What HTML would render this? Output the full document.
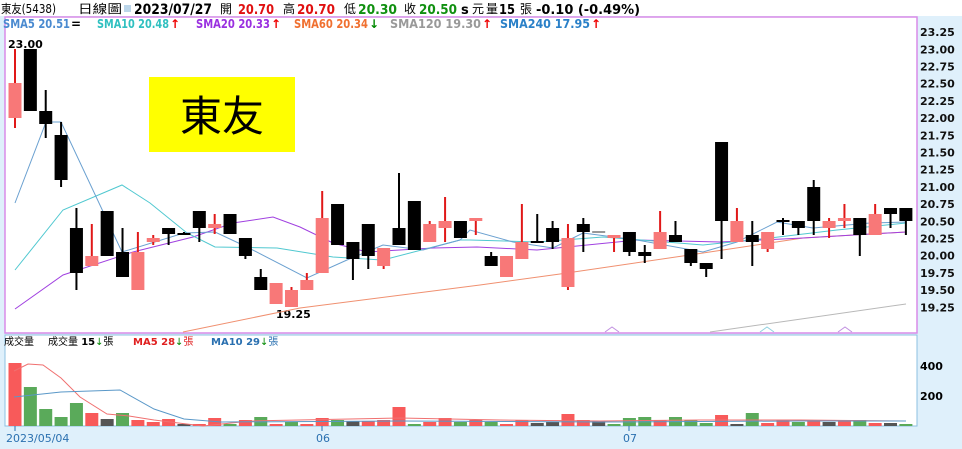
<!DOCTYPE html>
<html><head><meta charset="utf-8"><style>
body{margin:0;width:962px;height:449px;background:#dff0fb;overflow:hidden;font-family:"Liberation Sans","Noto Sans CJK TC",sans-serif}
svg{position:absolute;left:0;top:0}
text{font-family:"DejaVu Sans","Liberation Sans","Noto Sans CJK TC",sans-serif}
</style></head><body>
<svg id="s" width="962" height="449" xmlns="http://www.w3.org/2000/svg">
<rect x="0" y="0" width="962" height="449" fill="#dff0fb"/>
<rect x="0" y="0" width="962" height="16" fill="#fff"/>
<rect x="5" y="17" width="912" height="316" fill="#fff" stroke="#d98be8" stroke-width="1.5"/>
<rect x="5" y="335" width="912" height="91" fill="#fff" stroke="#8cc0e0" stroke-width="1"/>
<rect x="149" y="77" width="146" height="75" fill="#ffff00"/>
<text x="222" y="131" font-size="42" text-anchor="middle" font-family="Noto Serif CJK SC,serif" fill="#000">東友</text>
<g font-size="13">
<text x="1" y="13" font-family="Noto Sans CJK TC,sans-serif" font-size="12" textLength="55" lengthAdjust="spacingAndGlyphs">東友(5438)</text>
<text x="78" y="13" font-family="Noto Sans CJK TC,sans-serif" font-size="12" textLength="44" lengthAdjust="spacingAndGlyphs">日線圖</text>
<rect x="124" y="5" width="7" height="7" fill="#bcd6ea"/>
<text x="134" y="14" font-weight="bold" font-size="14" textLength="78" lengthAdjust="spacingAndGlyphs">2023/07/27</text>
<text x="220" y="13" font-size="12">開</text><text x="238" y="14" font-weight="bold" fill="#e01010" textLength="36" lengthAdjust="spacingAndGlyphs">20.70</text>
<text x="283" y="13" font-size="12">高</text><text x="297" y="14" font-weight="bold" fill="#e01010" textLength="38" lengthAdjust="spacingAndGlyphs">20.70</text>
<text x="344" y="13" font-size="12">低</text><text x="358" y="14" font-weight="bold" fill="#109010" textLength="39" lengthAdjust="spacingAndGlyphs">20.30</text>
<text x="404" y="13" font-size="12">收</text><text x="419" y="14" font-weight="bold" fill="#109010" textLength="38" lengthAdjust="spacingAndGlyphs">20.50</text>
<text x="461" y="14" font-weight="bold">s</text><text x="472" y="13" font-size="12">元</text>
<text x="486" y="13" font-size="12">量</text><text x="499" y="14" font-weight="bold" textLength="16" lengthAdjust="spacingAndGlyphs">15</text><text x="520" y="13" font-size="12">張</text>
<text x="536" y="14" font-weight="bold" textLength="104" lengthAdjust="spacingAndGlyphs">-0.10 (-0.49%)</text>
</g>
<g font-size="12" font-weight="bold">
<text x="3" y="28" fill="#4a8ad0" textLength="67" lengthAdjust="spacingAndGlyphs">SMA5 20.51</text><text x="71" y="28" fill="#000">=</text>
<text x="97" y="28" fill="#30c0c0" textLength="72" lengthAdjust="spacingAndGlyphs">SMA10 20.48</text><text x="170" y="28" fill="#e00">↑</text>
<text x="196" y="28" fill="#9a30e0" textLength="74" lengthAdjust="spacingAndGlyphs">SMA20 20.33</text><text x="271" y="28" fill="#e00">↑</text>
<text x="294" y="28" fill="#f07030" textLength="74" lengthAdjust="spacingAndGlyphs">SMA60 20.34</text><text x="369" y="28" fill="#080">↓</text>
<text x="390" y="28" fill="#999" textLength="91" lengthAdjust="spacingAndGlyphs">SMA120 19.30</text><text x="482" y="28" fill="#e00">↑</text>
<text x="500" y="28" fill="#2a80c8" textLength="90" lengthAdjust="spacingAndGlyphs">SMA240 17.95</text><text x="591" y="28" fill="#e00">↑</text>
</g>
<g font-size="11" font-weight="bold" fill="#111" id="ax"></g>
<text x="8" y="48" font-size="11" font-weight="bold">23.00</text>
<text x="276" y="318" font-size="11" font-weight="bold">19.25</text>
<g id="ma"></g>
<g id="c"></g>
<g id="v"></g>
<g font-size="10">
<text x="4" y="345" font-family="Noto Sans CJK TC,sans-serif">成交量</text>
<text x="48" y="345" font-family="Noto Sans CJK TC,sans-serif">成交量 <tspan font-weight="bold" font-family="DejaVu Sans">15</tspan><tspan fill="#080">↓</tspan>張</text>
<text x="133" y="345" fill="#e02020"><tspan font-weight="bold">MA5 28</tspan><tspan fill="#080">↓</tspan>張</text>
<text x="211" y="345" fill="#2a70b0"><tspan font-weight="bold">MA10 29</tspan><tspan fill="#080">↓</tspan>張</text>
</g>
<g font-size="11" font-weight="bold"><text x="920" y="370">400</text><text x="920" y="400">200</text></g>
<g font-size="11" fill="#2a70b0">
<line x1="15" y1="426" x2="15" y2="431" stroke="#2a70b0"/><text x="6" y="442">2023/05/04</text>
<line x1="322" y1="426" x2="322" y2="431" stroke="#2a70b0"/><text x="316" y="442">06</text>
<line x1="629" y1="426" x2="629" y2="431" stroke="#2a70b0"/><text x="623" y="442">07</text>
</g>
</svg>
<script>
var NS="http://www.w3.org/2000/svg";
function el(p,t,a){var e=document.createElementNS(NS,t);for(var k in a)e.setAttribute(k,a[k]);document.getElementById(p).appendChild(e);return e;}
for(var i=0;i<17;i++){var p=23.25-i*0.25;var y=49.3+(23-p)*68.8;var t=el("ax","text",{x:920,y:y+4});t.textContent=p.toFixed(2);}
var C=[
["r",83,118,49,128],["k",49,111,49,111],["k",111,124,90,138],["k",135,180,122,187],["k",228,273,208,290],
["r",256,266,224,266],["k",211,256,211,256],["k",252,277,228,277],["r",252,290,232,290],["r",238,242,235,245],
["k",228,234,228,245],["d",234,234,232,234],["k",211,228,211,242],["r",224,228,214,234],["k",214,234,214,234],
["k",238,256,238,259],["k",277,290,269,290],["r",283,304,283,304],["r",290,307,287,307],["r",280,290,273,290],
["r",218,273,191,273],["k",204,245,204,245],["k",242,259,242,280],["k",224,256,224,269],["r",248,266,248,269],
["k",228,245,173,245],["k",201,250,201,250],["r",224,242,221,242],["r",221,228,197,242],["k",221,238,221,238],
["r",218,221,218,235],["k",256,266,252,266],["r",256,277,256,277],["r",242,259,204,259],["d",242,242,214,242],
["k",228,242,221,249],["r",238,287,224,290],["k",224,232,218,252],["g",232,232,232,232],["r",235,238,235,252],
["k",232,252,232,256],["k",252,256,245,263],["r",232,249,211,249],["k",235,242,221,242],["k",249,263,249,266],
["k",263,269,263,277],["k",142,221,142,259],["r",221,242,208,242],["k",235,242,221,266],["r",232,249,232,252],
["d",221,221,218,235],["k",221,228,221,235],["k",187,221,180,235],["r",221,228,218,238],["r",218,221,204,228],
["k",218,235,218,256],["r",214,235,204,235],["k",208,214,208,228],["k",208,221,208,235]];
var V=[["r",63],["g",39],["g",17],["g",9],["g",23],["r",13],["k",7],["g",13],["r",6],["r",4],["r",7],["k",2],["r",2],["r",8],["g",2],["r",6],["g",9],["r",2],["g",4],["r",2],["r",8],["g",6],["k",5],["r",5],["r",6],["r",19],["g",2],["r",4],["r",8],["g",4],["r",6],["g",4],["r",2],["r",6],["k",3],["k",4],["r",12],["r",6],["k",5],["g",2],["g",8],["g",9],["r",6],["g",9],["g",6],["g",3],["r",11],["k",2],["g",13],["r",3],["r",6],["g",4],["r",6],["k",4],["r",6],["g",6],["r",3],["k",3],["g",2]];
function pl(pts,col,w){el("ma","polyline",{points:pts,fill:"none",stroke:col,"stroke-width":w||1});}
pl("183,332 300,308 480,285 560,274 703,253 803,238 906,232","#f09070");
pl("710,332 906,304","#b8b8b8");
pl("15,309 63,275 133,252 193,237 233,223 273,217 300,227 333,243 367,252 433,248 477,247 537,250 637,240 720,242 803,238 906,232","#a040e0");
pl("15,270 63,210 122,185 150,203 187,233 215,247 277,248 333,257 383,260 460,240 470,240 537,242 603,237 703,245 770,238 837,230 906,223","#50c8d0");
pl("15,203 46,122 61,122 122,252 184,233 215,232 247,247 307,278 347,260 383,245 423,250 460,240 470,230 513,242 553,248 583,233 637,240 703,252 737,242 777,222 813,228 870,223 906,222","#6aa0d0");
el("ma","polyline",{points:"605,332 612,327 619,332",fill:"none",stroke:"#c090e0"});
el("ma","polyline",{points:"760,332 767,327 774,332",fill:"none",stroke:"#90d0e0"});
el("ma","polyline",{points:"838,332 845,327 852,332",fill:"none",stroke:"#c090e0"});
for(var i=0;i<C.length;i++){var d=C[i],x=15+i*15.36;
 var col=d[0]=="r"?"#f87878":(d[0]=="g"?"#999":"#000"),wc=d[0]=="r"?"#e01818":(d[0]=="g"?"#999":"#000");
 el("c","line",{x1:x,y1:d[3],x2:x,y2:d[4],stroke:wc,"stroke-width":2});
 var h=Math.max(d[2]-d[1],2);
 el("c","rect",{x:x-6.5,y:d[1]-(d[2]==d[1]?1:0),width:13,height:h,fill:col});
 var v=V[i];var vc=v[0]=="r"?"#f85a5a":(v[0]=="g"?"#5aaa5a":"#555");
 el("v","rect",{x:x-6.5,y:426-v[1],width:13,height:v[1],fill:vc});
}
el("v","polyline",{points:"14,371 28,364 43,365 61,378 80,397 107,414 129,416 154,420 203,426 250,421 400,418 500,420 600,421 700,420 800,420 906,421",fill:"none",stroke:"#f07070"});
el("v","polyline",{points:"14,397 61,392 120,390 154,409 184,419 221,422 400,421 600,422 800,421 906,421",fill:"none",stroke:"#5a98c8"});
</script>
</body></html>
